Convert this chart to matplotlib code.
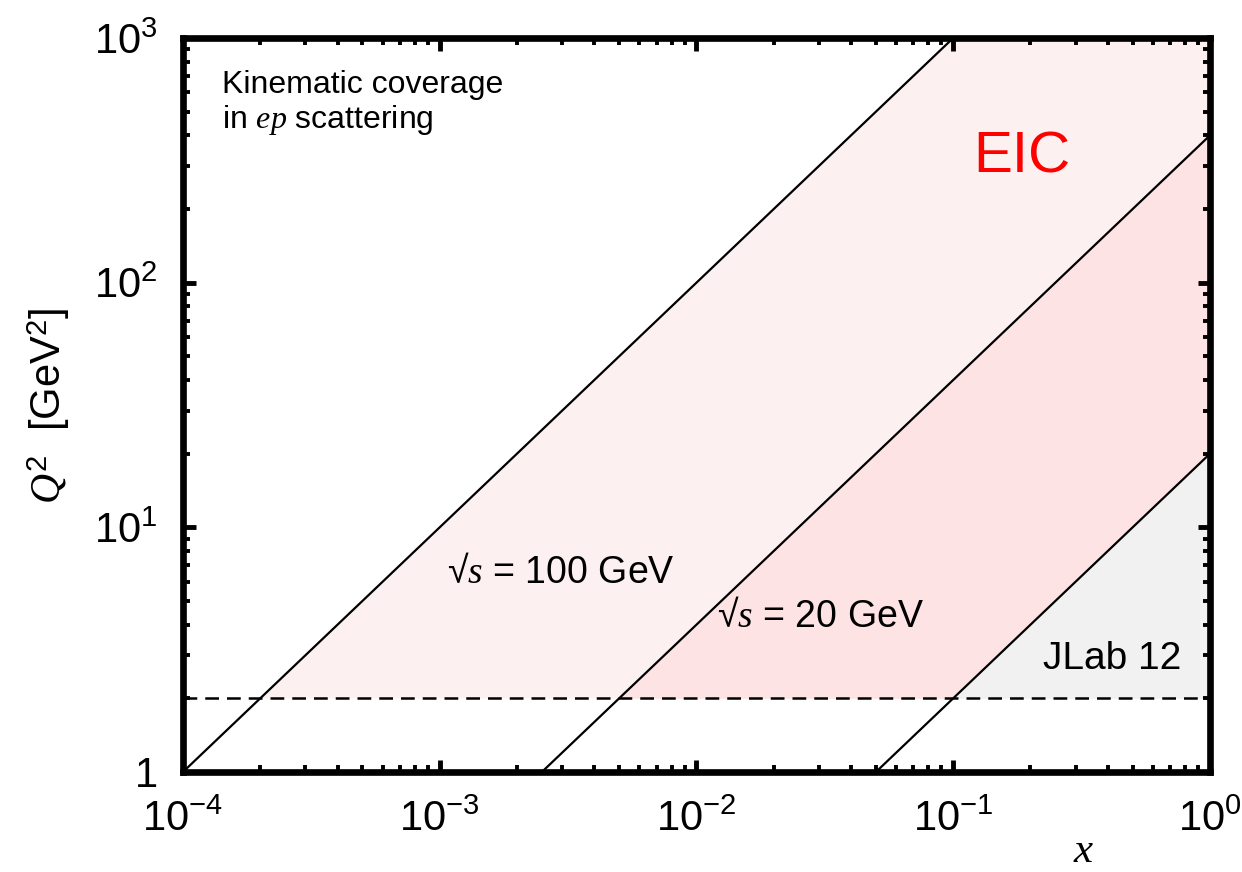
import matplotlib
matplotlib.use("Agg")
import matplotlib.pyplot as plt
import numpy as np

plt.rcParams['font.family'] = ['Liberation Sans', 'DejaVu Sans']
plt.rcParams['mathtext.fontset'] = 'custom'
plt.rcParams['mathtext.rm'] = 'Liberation Sans'
plt.rcParams['mathtext.it'] = 'Liberation Serif:italic'
plt.rcParams['mathtext.default'] = 'it'

# Q^2 = s * x (y = 1) boundaries
s_eic100 = 10000.0   # sqrt(s) = 100 GeV
s_eic20 = 400.0      # sqrt(s) = 20 GeV
s_jlab = 20.0        # JLab 12
q2_min = 2.0         # DIS cut

x_range = [1e-4, 1.0]
q2_range = [1.0, 1000.0]

c_light = '#fdf0f0'
c_dark = '#fde3e3'
c_gray = '#f1f1f1'

fig = plt.figure(figsize=(12.42, 8.72), dpi=100)
ax = fig.add_axes([0.1473, 0.1147, 0.8269, 0.8417])
ax.set_xscale('log')
ax.set_yscale('log')

x = np.logspace(np.log10(x_range[0]), np.log10(x_range[1]), 600)

lo = np.maximum(s_eic20 * x, q2_min)
hi = s_eic100 * x
ax.fill_between(x, lo, hi, where=hi > lo, color=c_light, lw=0, zorder=1)

lo = np.maximum(s_jlab * x, q2_min)
hi = s_eic20 * x
ax.fill_between(x, lo, hi, where=hi > lo, color=c_dark, lw=0, zorder=1)

hi = s_jlab * x
ax.fill_between(x, np.full_like(x, q2_min), hi, where=hi > q2_min,
                color=c_gray, lw=0, zorder=1)

for s in [s_eic100, s_eic20, s_jlab]:
    ax.plot(x, s * x, color='black', lw=1.6, zorder=3)

ax.axhline(q2_min, color='black', lw=1.8, ls=(0, (5.5, 3.2)), zorder=3)

ax.set_xlim(x_range)
ax.set_ylim(q2_range)

ax.set_yticks([1, 10, 100, 1000])
ax.set_yticklabels(['1', r'$\mathdefault{10^{1}}$', r'$\mathdefault{10^{2}}$',
                    r'$\mathdefault{10^{3}}$'])

for side in ax.spines.values():
    side.set_linewidth(4.8)
    side.set_zorder(5)
ax.tick_params(which='both', direction='in', top=True, right=True)
ax.tick_params(which='major', length=9, width=3.5)
ax.tick_params(which='minor', length=5, width=2.8)
ax.tick_params(axis='x', which='major', pad=20, labelsize=30)
ax.tick_params(axis='y', which='major', pad=18, labelsize=30)

ax.set_ylabel(r'$Q^2$  [GeV$^2$]', fontsize=30)
ax.yaxis.set_label_coords(-0.108, 0.499)
ax.text(0.877, -0.1349, r'$x$', transform=ax.transAxes, fontsize=31,
        ha='center', va='bottom')

ax.text(0.038, 0.925, 'Kinematic coverage', transform=ax.transAxes,
        fontsize=23, va='baseline')
ax.text(0.038, 0.877, r'in $ep$ scattering', transform=ax.transAxes,
        fontsize=23, va='baseline')

ax.text(0.817, 0.817, 'EIC', transform=ax.transAxes, fontsize=42,
        color='#ff0000', ha='center', va='baseline')
ax.text(0.257, 0.2575, r'√$s$ = 100 GeV', transform=ax.transAxes,
        fontsize=27, va='baseline', zorder=4)
ax.text(0.52, 0.1975, r'√$s$ = 20 GeV', transform=ax.transAxes,
        fontsize=27, va='baseline', zorder=4)
ax.text(0.837, 0.140, 'JLab 12', transform=ax.transAxes,
        fontsize=28, va='baseline', zorder=4)

fig.savefig('out.png', dpi=100)
